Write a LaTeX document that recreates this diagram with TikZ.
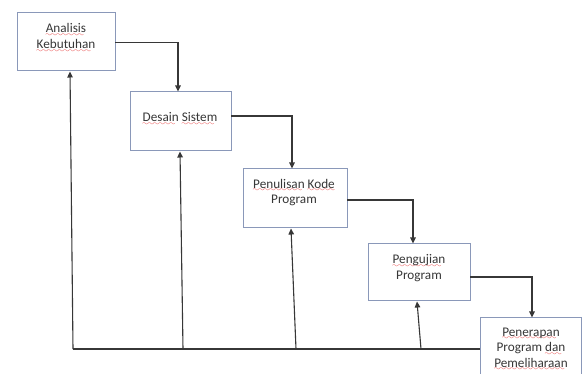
\documentclass[tikz,border=0pt]{standalone}
\usepackage{fontspec}
\setmainfont{Carlito}
\usetikzlibrary{arrows.meta}
\definecolor{boxc}{RGB}{138,152,185}
\definecolor{linec}{RGB}{55,55,55}
\definecolor{txtc}{RGB}{55,55,55}
\definecolor{wavec}{RGB}{230,45,45}
\font\wavefont=lasy7
\newsavebox\wavebox
\newcommand\rwave[1]{\sbox\wavebox{#1}\rlap{\raisebox{-3.8pt}[0pt][0pt]{\color{wavec}\leaders\hbox{\wavefont\char58}\hskip\wd\wavebox}}\usebox\wavebox}
\begin{document}
\begin{tikzpicture}[x=1pt,y=-1pt,
  box/.style={draw=boxc,line width=1pt,inner sep=0pt,fill=white},
  lbl/.style={text=txtc,align=center,inner sep=0pt,font=\fontsize{13.2}{15.5}\selectfont},
  arr/.style={draw=linec,line width=1.1pt,-{Triangle[length=6pt,width=5.5pt]}},
  ln/.style={draw=linec,line width=1.1pt}]
\useasboundingbox (0,0) rectangle (582,374);
\clip (0,0) rectangle (582,374);
\fill[white] (0,0) rectangle (582,374);
% boxes
\node[box,minimum width=98pt,minimum height=58pt] (b1) at (66,42) {};
\node[box,minimum width=101pt,minimum height=59pt] (b2) at (180.5,121.5) {};
\node[box,minimum width=104pt,minimum height=59pt] (b3) at (295,198.5) {};
\node[box,minimum width=102pt,minimum height=57pt] (b4) at (419,272.5) {};
\node[box,minimum width=101pt,minimum height=67pt] (b5) at (530.5,351.5) {};
% labels
\node[lbl] (t1) at (66,36) {\rwave{Analisis}\\\rwave{Kebutuhan}};
\node[lbl] (t2) at (180,117) {\rwave{Desain} \rwave{Sistem}};
\node[lbl] (t3) at (294,192.5) {\rwave{Penulisan} \rwave{Kode}\\Program};
\node[lbl] (t4) at (419,268) {\rwave{Pengujian}\\Program};
\node[lbl] (t5) at (531,347.5) {\rwave{Penerapan}\\Program \rwave{dan}\\\rwave{Pemeliharaan}};
% forward arrows
\coordinate (a1) at (115,42.5);
\coordinate (a2) at (231,116);
\coordinate (a3) at (347,200);
\coordinate (a4) at (470,277);
\draw[arr] (a1) -| ([xshift=-2.5pt]b2.north);
\draw[arr] (a2) -| ([xshift=-3pt]b3.north);
\draw[arr] (a3) -| ([xshift=-6pt]b4.north);
\draw[arr] (a4) -| ([xshift=1.5pt]b5.north);
% feedback line
\coordinate (c1) at (73,349);
\coordinate (c2) at (183,349);
\coordinate (c3) at (296,349);
\coordinate (c4) at (421,349);
\draw[ln] (c1) -- (b5.west |- c1);
\draw[arr] (c1) -- ([xshift=4pt]b1.south);
\draw[arr] (c2) -- ([xshift=-0.5pt]b2.south);
\draw[arr] (c3) -- ([xshift=-4pt]b3.south);
\draw[arr] (c4) -- ([xshift=-2pt]b4.south);
\end{tikzpicture}
\end{document}
